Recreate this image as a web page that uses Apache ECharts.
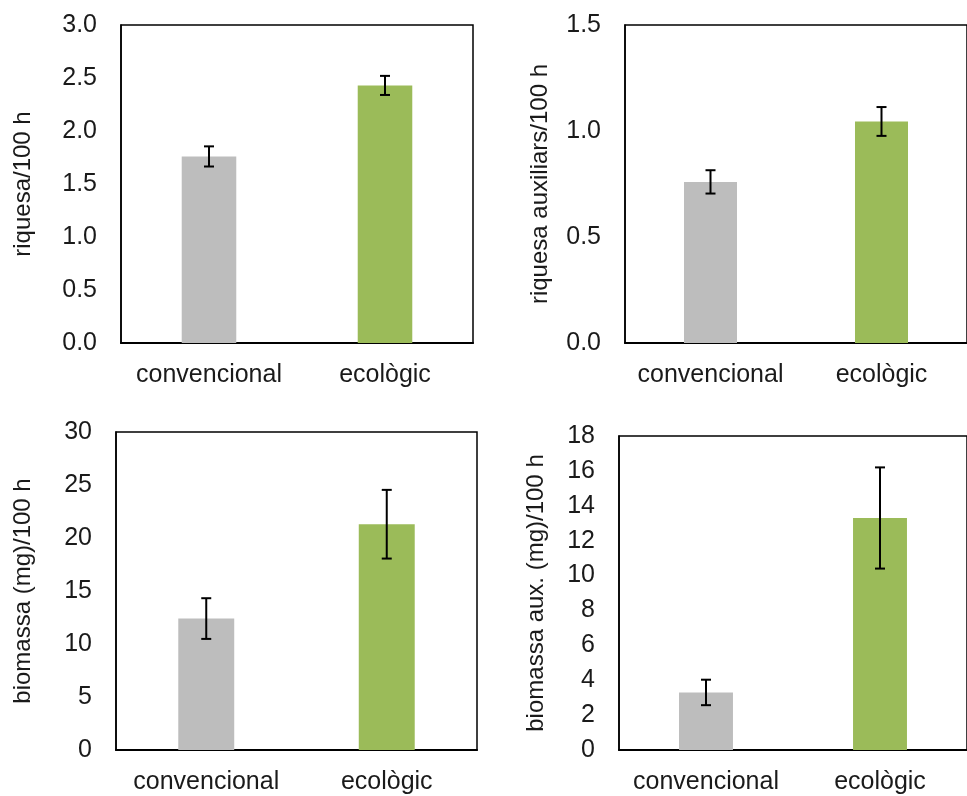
<!DOCTYPE html>
<html>
<head>
<meta charset="utf-8">
<style>
  html, body { margin: 0; padding: 0; background: #fff; }
  #chart { width: 967px; height: 796px; }
</style>
<script src="https://cdn.jsdelivr.net/npm/echarts@6/dist/echarts.min.js"></script>
</head>
<body>
<div id="chart"></div>
<script>
// Categories shared by all four panels
const categories = ['convencional', 'ecològic'];

// Species richness per 100 h (mean and standard error)
const riquesa = [1.76, 2.43];
const riquesaErr = [0.095, 0.09];

// Richness of auxiliary species per 100 h
const riquesaAux = [0.76, 1.045];
const riquesaAuxErr = [0.055, 0.068];

// Biomass (mg) per 100 h
const biomassa = [12.4, 21.3];
const biomassaErr = [1.92, 3.24];

// Biomass of auxiliary species (mg) per 100 h
const biomassaAux = [3.3, 13.3];
const biomassaAuxErr = [0.73, 2.9];

// Y axis titles and ranges
const yNames = ['riquesa/100 h', 'riquesa auxiliars/100 h', 'biomassa (mg)/100 h', 'biomassa aux. (mg)/100 h'];
const yMax = [3.0, 1.5, 30, 18];
const yStep = [0.5, 0.5, 5, 2];
const yDecimals = [1, 1, 0, 0];

const means = [riquesa, riquesaAux, biomassa, biomassaAux];
const errs = [riquesaErr, riquesaAuxErr, biomassaErr, biomassaAuxErr];

const barColors = ['#BDBDBD', '#9BBB59'];
const FONT = 'Liberation Sans, Arial, sans-serif';
const TXT = '#1a1a1a';

const grids = [
  { left: 121, top: 25, width: 352, height: 318 },
  { left: 625, top: 25, width: 351, height: 318 },
  { left: 116, top: 432, width: 361, height: 318 },
  { left: 619, top: 436, width: 356, height: 314 }
];
const nameGaps = [86, 73, 81, 71];

const option = {
  animation: false,
  backgroundColor: '#fff',
  grid: grids.map(g => Object.assign({ show: true, borderColor: '#000', borderWidth: 1.5, backgroundColor: 'transparent' }, g)),
  xAxis: grids.map((g, i) => ({
    type: 'category',
    gridIndex: i,
    data: categories,
    axisLine: { show: true, lineStyle: { color: '#000', width: 2 } },
    axisTick: { show: false },
    axisLabel: {
      color: TXT, fontFamily: FONT, fontSize: 25, margin: 20,
      interval: 0, hideOverlap: false
    }
  })),
  yAxis: grids.map((g, i) => ({
    type: 'value',
    gridIndex: i,
    min: 0,
    max: yMax[i],
    interval: yStep[i],
    name: yNames[i],
    nameLocation: 'middle',
    nameRotate: 90,
    nameGap: nameGaps[i],
    nameTextStyle: { color: TXT, fontFamily: FONT, fontSize: 24 },
    axisLine: { show: true, lineStyle: { color: '#000', width: 1.5 } },
    axisTick: { show: false },
    splitLine: { show: false },
    axisLabel: {
      color: TXT, fontFamily: FONT, fontSize: 25, margin: 24,
      formatter: v => v.toFixed(yDecimals[i])
    }
  })),
  series: []
};

means.forEach((vals, i) => {
  option.series.push({
    type: 'bar',
    xAxisIndex: i,
    yAxisIndex: i,
    barWidth: '31%',
    data: vals.map((v, k) => ({ value: v, itemStyle: { color: barColors[k] } }))
  });
  option.series.push({
    type: 'custom',
    xAxisIndex: i,
    yAxisIndex: i,
    z: 10,
    data: vals.map((v, k) => [k, v - errs[i][k], v + errs[i][k]]),
    renderItem: function (params, api) {
      const lo = api.coord([api.value(0), api.value(1)]);
      const hi = api.coord([api.value(0), api.value(2)]);
      const half = 5;
      const style = { stroke: '#000', lineWidth: 2 };
      return {
        type: 'group',
        children: [
          { type: 'line', shape: { x1: hi[0], y1: hi[1], x2: lo[0], y2: lo[1] }, style },
          { type: 'line', shape: { x1: hi[0] - half, y1: hi[1], x2: hi[0] + half, y2: hi[1] }, style },
          { type: 'line', shape: { x1: lo[0] - half, y1: lo[1], x2: lo[0] + half, y2: lo[1] }, style }
        ]
      };
    }
  });
});

const chart = echarts.init(document.getElementById('chart'), null, { renderer: 'canvas' });
chart.setOption(option);
</script>
</body>
</html>
